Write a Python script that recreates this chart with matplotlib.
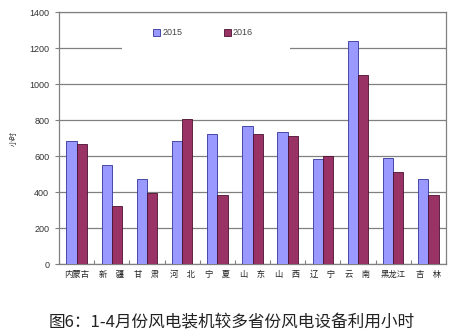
import matplotlib
matplotlib.use('Agg')
import matplotlib.pyplot as plt
from matplotlib.patches import Rectangle
import numpy as np

plt.rcParams['font.family'] = ['Liberation Sans', 'Noto Sans CJK SC', 'DejaVu Sans']

# Data
provinces = ['内蒙古', '新　疆', '甘　肃', '河　北', '宁　夏', '山　东',
             '山　西', '辽　宁', '云　南', '黑龙江', '吉　林']
hours_2015 = [685, 550, 475, 685, 720, 765, 735, 585, 1240, 590, 475]
hours_2016 = [665, 320, 395, 805, 385, 720, 710, 600, 1050, 510, 385]
series_names = ['2015', '2016']
y_ticks = [0, 200, 400, 600, 800, 1000, 1200, 1400]
caption = '图6：1-4月份风电装机较多省份风电设备利用小时'

fig = plt.figure(figsize=(4.63, 3.34), dpi=100)
ax = fig.add_axes([59 / 463, 1 - 264 / 334, 387 / 463, 252 / 334])

x = np.arange(len(provinces))
w = 0.29
ax.bar(x - w / 2, hours_2015, w, color='#9999FF', edgecolor='#333399',
       linewidth=0.6, label=series_names[0], zorder=3)
ax.bar(x + w / 2, hours_2016, w, color='#993366', edgecolor='#4a1030',
       linewidth=0.6, label=series_names[1], zorder=3)

ax.set_xlim(-0.5, len(provinces) - 0.5)
ax.set_ylim(0, 1400)
ax.set_yticks(y_ticks)
ax.set_yticklabels([str(t) for t in y_ticks], fontsize=6.5, color='#333333')
ax.set_axisbelow(True)
ax.yaxis.grid(True, color='#808080', linewidth=0.9)

ax.set_xticks(np.arange(len(provinces) + 1) - 0.5)
ax.set_xticklabels([])
ax.set_xticks(x, minor=True)
ax.set_xticklabels(provinces, minor=True, fontsize=6,
                   family=['Noto Sans CJK SC'], color='#222222')
ax.tick_params(axis='x', which='minor', length=0, pad=4)
ax.tick_params(axis='x', which='major', length=3, direction='in', color='#808080')
ax.tick_params(axis='y', length=3, color='#808080', pad=4)

for s in ax.spines.values():
    s.set_color('#808080')
    s.set_linewidth(0.9)

ax.set_ylabel('小时', fontsize=5.5, family=['Noto Sans CJK SC'], color='#333333',
              labelpad=8)

# white legend area that hides part of the 1200 gridline
ax.add_patch(Rectangle((0.163, 0.829), 0.434, 0.147, transform=ax.transAxes,
                       facecolor='white', edgecolor='none', zorder=2))

leg = ax.legend(loc='center left', bbox_to_anchor=(0.243, 0.917), ncol=2,
                frameon=False, fontsize=6.5, handlelength=0.8, handleheight=0.8,
                handletextpad=0.2, columnspacing=4.6, borderpad=0,
                borderaxespad=0)
for t in leg.get_texts():
    t.set_color('#444444')

fig.text(0.5, 1 - 323 / 334, caption, ha='center', va='center',
         fontsize=12, family=['Noto Sans CJK SC'], color='#222222')

fig.savefig('out.png', dpi=100, facecolor='white')
plt.close(fig)
